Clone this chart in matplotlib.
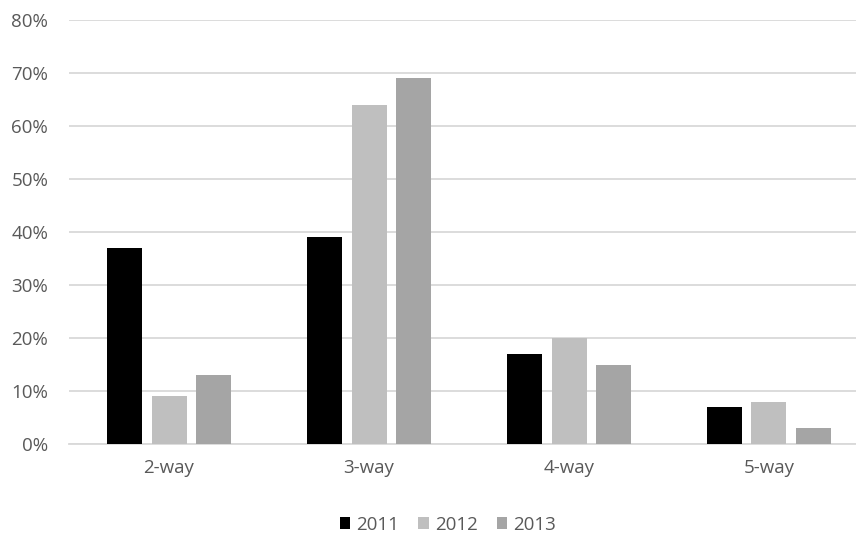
import numpy as np
import matplotlib.pyplot as plt
from matplotlib.ticker import PercentFormatter

categories = ["2-way", "3-way", "4-way", "5-way"]
years = ["2011", "2012", "2013"]
values_2011 = [37, 39, 17, 7]
values_2012 = [9, 64, 20, 8]
values_2013 = [13, 69, 15, 3]
colors = ["#000000", "#bfbfbf", "#a5a5a5"]

plt.rcParams['font.family'] = ['Open Sans', 'DejaVu Sans']
text_color = "#595959"

fig = plt.figure(figsize=(8.56, 5.34), dpi=100)
# plot area runs a little past the right edge of the picture
ax = fig.add_axes([69 / 856, 90 / 534, 800 / 856, 424 / 534])

x = np.arange(len(categories))
width = 0.175
step = 0.2225
for i, (vals, year) in enumerate(zip([values_2011, values_2012, values_2013], years)):
    ax.bar(x + (i - 1) * step, vals, width, color=colors[i], label=year, zorder=3)

ax.set_xlim(-0.5, len(categories) - 0.5)
ax.set_ylim(0, 80)
ax.set_yticks(np.arange(0, 81, 10))
ax.yaxis.set_major_formatter(PercentFormatter(decimals=0))
ax.set_xticks(x)
ax.set_xticklabels(categories)
ax.grid(axis='y', color="#d9d9d9", linewidth=1.3, zorder=0)
for s in ["top", "right", "left"]:
    ax.spines[s].set_visible(False)
ax.spines["bottom"].set_color("#d9d9d9")
ax.spines["bottom"].set_linewidth(1.3)
ax.tick_params(axis='both', length=0, labelsize=13.5, labelcolor=text_color)
ax.tick_params(axis='y', pad=15)
ax.tick_params(axis='x', pad=11)

ax.legend(loc="center", bbox_to_anchor=(379 / 800, -0.19), ncol=3, frameon=False,
          fontsize=13.5, labelcolor=text_color, handlelength=0.55, handleheight=0.55,
          handletextpad=0.35, columnspacing=1.0)

fig.savefig("out.png", dpi=100)
